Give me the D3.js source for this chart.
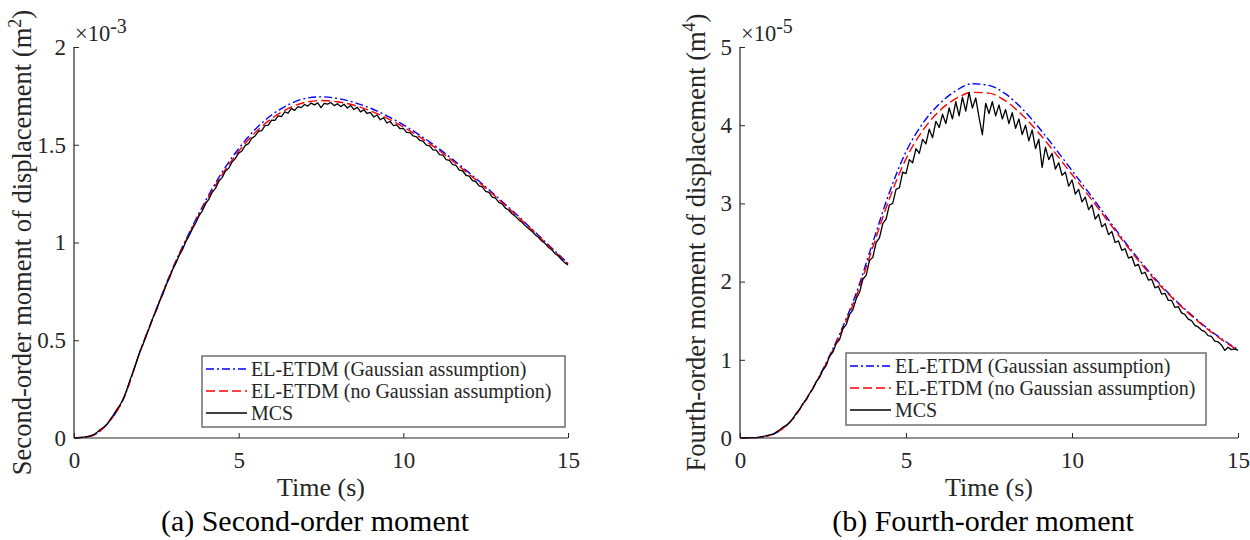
<!DOCTYPE html>
<html>
<head>
<meta charset="utf-8">
<script src="https://cdn.jsdelivr.net/npm/d3@7"></script>
<style>
	body { margin: 0; background: #fff; }
	svg text { font-family: 'Times New Roman', 'Liberation Serif', Times, serif; }
</style>
</head>
<body>
<svg id="chart" width="1250" height="540"></svg>
<script>
// time grids
const tCoarse = d3.range(0, 15.01, 0.5)
const tFine = d3.range(0, 15.001, 0.1)

// (a) second-order moment, x1e-3 m^2
const secondGauss = [0, 0.01, 0.07, 0.2, 0.44, 0.66, 0.87, 1.05, 1.215, 1.36, 1.48, 1.578, 1.652, 1.704, 1.736, 1.745, 1.737, 1.717, 1.687, 1.648, 1.602, 1.549, 1.49, 1.425, 1.356, 1.285, 1.21, 1.133, 1.053, 0.973, 0.893]
const secondNoGauss = [0, 0.01, 0.07, 0.2, 0.44, 0.658, 0.866, 1.044, 1.206, 1.348, 1.466, 1.562, 1.634, 1.685, 1.716, 1.726, 1.72, 1.702, 1.674, 1.636, 1.591, 1.539, 1.481, 1.417, 1.349, 1.279, 1.205, 1.128, 1.049, 0.969, 0.889]
const secondMCS = [
	0, 0.001, 0.002, 0.005, 0.007, 0.011, 0.017, 0.029, 0.043, 0.055,
	0.069, 0.095, 0.118, 0.147, 0.17, 0.201, 0.245, 0.297, 0.341, 0.39,
	0.442, 0.481, 0.526, 0.569, 0.616, 0.652, 0.701, 0.736, 0.784, 0.818,
	0.864, 0.897, 0.936, 0.965, 1.006, 1.036, 1.072, 1.101, 1.138, 1.163,
	1.2, 1.222, 1.258, 1.278, 1.314, 1.333, 1.366, 1.38, 1.412, 1.43,
	1.457, 1.468, 1.497, 1.506, 1.534, 1.545, 1.569, 1.572, 1.598, 1.6,
	1.626, 1.625, 1.648, 1.644, 1.668, 1.662, 1.686, 1.676, 1.695, 1.69,
	1.706, 1.698, 1.713, 1.704, 1.714, 1.69, 1.712, 1.708, 1.716, 1.7,
	1.71, 1.695, 1.707, 1.688, 1.701, 1.68, 1.692, 1.668, 1.679, 1.66,
	1.665, 1.642, 1.652, 1.628, 1.638, 1.612, 1.619, 1.598, 1.602, 1.582,
	1.584, 1.563, 1.562, 1.545, 1.54, 1.522, 1.518, 1.498, 1.494, 1.474,
	1.472, 1.449, 1.447, 1.424, 1.42, 1.398, 1.394, 1.37, 1.367, 1.344,
	1.34, 1.316, 1.312, 1.29, 1.284, 1.262, 1.256, 1.232, 1.227, 1.205,
	1.197, 1.176, 1.166, 1.147, 1.134, 1.117, 1.103, 1.087, 1.072, 1.058,
	1.04, 1.027, 1.008, 0.996, 0.976, 0.964, 0.944, 0.932, 0.913, 0.897,
	0.885
]

// (b) fourth-order moment, x1e-5 m^4
const fourthGauss = [0, 0.005, 0.05, 0.2, 0.5, 0.88, 1.33, 1.85, 2.5, 3.14, 3.66, 4.02, 4.27, 4.44, 4.53, 4.51, 4.4, 4.21, 3.97, 3.7, 3.42, 3.14, 2.85, 2.56, 2.29, 2.04, 1.81, 1.61, 1.43, 1.27, 1.13]
const fourthNoGauss = [0, 0.005, 0.05, 0.2, 0.5, 0.87, 1.31, 1.81, 2.44, 3.06, 3.57, 3.93, 4.18, 4.34, 4.42, 4.41, 4.31, 4.13, 3.9, 3.64, 3.37, 3.1, 2.82, 2.54, 2.27, 2.02, 1.8, 1.6, 1.42, 1.26, 1.12]
const fourthMCS = [
	0, 0.001, 0.001, 0.003, 0.004, 0.006, 0.011, 0.021, 0.029, 0.041,
	0.049, 0.08, 0.105, 0.14, 0.164, 0.203, 0.252, 0.321, 0.37, 0.442,
	0.49, 0.575, 0.632, 0.724, 0.776, 0.872, 0.93, 1.05, 1.1, 1.21,
	1.26, 1.4, 1.45, 1.58, 1.64, 1.78, 1.86, 2.03, 2.08, 2.27,
	2.31, 2.5, 2.56, 2.74, 2.8, 2.98, 3.0, 3.18, 3.2, 3.4,
	3.38, 3.56, 3.52, 3.7, 3.64, 3.82, 3.76, 3.95, 3.84, 4.05,
	3.97, 4.14, 4.02, 4.22, 4.08, 4.3, 4.12, 4.36, 4.18, 4.42,
	4.22, 4.35, 4.1, 3.88, 4.28, 4.15, 4.3, 4.12, 4.26, 4.08,
	4.2, 4.02, 4.16, 3.96, 4.08, 3.88, 4.0, 3.8, 3.94, 3.7,
	3.82, 3.46, 3.72, 3.56, 3.64, 3.44, 3.52, 3.36, 3.4, 3.22,
	3.3, 3.12, 3.18, 3.02, 3.08, 2.92, 2.98, 2.8, 2.86, 2.7,
	2.74, 2.6, 2.64, 2.5, 2.52, 2.4, 2.42, 2.3, 2.32, 2.2,
	2.22, 2.1, 2.12, 2.02, 2.03, 1.92, 1.94, 1.84, 1.85, 1.76,
	1.76, 1.67, 1.68, 1.6, 1.58, 1.52, 1.5, 1.44, 1.42, 1.38,
	1.36, 1.31, 1.3, 1.24, 1.23, 1.19, 1.12, 1.16, 1.13, 1.14,
	1.12
]

const xTicks = [0, 5, 10, 15]
const secondTicks = [0, 0.5, 1, 1.5, 2]
const fourthTicks = [0, 1, 2, 3, 4, 5]
const legendLabels = ['EL-ETDM (Gaussian assumption)', 'EL-ETDM (no Gaussian assumption)', 'MCS']

const styles = [
	{ color: '#0000ff', dash: '8,3,2,3', width: 1.4 },
	{ color: '#ff0000', dash: '9,4', width: 1.4 },
	{ color: '#000000', dash: null, width: 1.3 }
]

const panels = [
	{
		left: 74, right: 568, top: 47, bottom: 438,
		yMax: 2, yTicks: secondTicks, exponent: '-3',
		ylabel: 'Second-order moment of displacement (m', power: '2', ylabelX: 31,
		title: '(a) Second-order moment',
		series: [secondGauss, secondNoGauss], mcs: secondMCS,
		legend: { x: 202, y: 356, w: 363, h: 71 }
	},
	{
		left: 740, right: 1238, top: 47, bottom: 438,
		yMax: 5, yTicks: fourthTicks, exponent: '-5',
		ylabel: 'Fourth-order moment of displacement (m', power: '4', ylabelX: 705,
		title: '(b) Fourth-order moment',
		series: [fourthGauss, fourthNoGauss], mcs: fourthMCS,
		legend: { x: 846, y: 353, w: 360, h: 72 }
	}
]

const svg = d3.select('#chart')
const ink = '#262626'

panels.forEach(p => {
	const x = d3.scaleLinear().domain([0, 15]).range([p.left, p.right])
	const y = d3.scaleLinear().domain([0, p.yMax]).range([p.bottom, p.top])
	const g = svg.append('g')

	const line = d3.line()
		.x(d => x(d[0]))
		.y(d => y(d[1]))

	// smooth model curves
	p.series.forEach((vals, i) => {
		g.append('path')
			.datum(tCoarse.map((t, k) => [t, vals[k]]))
			.attr('fill', 'none')
			.attr('stroke', styles[i].color)
			.attr('stroke-width', styles[i].width)
			.attr('stroke-dasharray', styles[i].dash)
			.attr('d', line.curve(d3.curveMonotoneX))
	})

	// MCS
	g.append('path')
		.datum(tFine.map((t, k) => [t, p.mcs[k]]))
		.attr('fill', 'none')
		.attr('stroke', styles[2].color)
		.attr('stroke-width', styles[2].width)
		.attr('stroke-linejoin', 'round')
		.attr('d', line.curve(d3.curveLinear))

	// axes, ticks pointing inward like matlab
	const xAxis = g.append('g')
		.attr('transform', `translate(0,${p.bottom})`)
		.call(d3.axisBottom(x).tickValues(xTicks).tickFormat(d => String(d)).tickSize(-5).tickPadding(10))
	const yAxis = g.append('g')
		.attr('transform', `translate(${p.left},0)`)
		.call(d3.axisLeft(y).tickValues(p.yTicks).tickFormat(d => String(d)).tickSize(-5).tickPadding(8))

	;[xAxis, yAxis].forEach(a => {
		a.attr('font-family', null).attr('font-size', null)
		a.select('.domain').attr('stroke', ink).attr('stroke-width', 1.2)
			.attr('d', a === xAxis ? `M${p.left},0H${p.right}` : `M0,${p.bottom}V${p.top}`)
		a.selectAll('.tick line').attr('stroke', ink).attr('stroke-width', 1)
		a.selectAll('.tick text')
			.attr('fill', ink)
			.style('font-size', '23px')
	})
	xAxis.selectAll('.tick text').attr('dy', '0.85em')

	// exponent
	const ex = g.append('text')
		.attr('x', p.left + 1)
		.attr('y', p.top - 6)
		.attr('fill', ink)
		.style('font-size', '22.5px')
	ex.append('tspan').text('×10')
	ex.append('tspan').attr('dy', -8).style('font-size', '20px').text(p.exponent)

	// labels
	g.append('text')
		.attr('x', (p.left + p.right) / 2)
		.attr('y', 496)
		.attr('text-anchor', 'middle')
		.attr('fill', ink)
		.style('font-size', '26px')
		.text('Time (s)')

	const yl = g.append('text')
		.attr('transform', `translate(${p.ylabelX},${(p.top + p.bottom) / 2}) rotate(-90)`)
		.attr('text-anchor', 'middle')
		.attr('fill', ink)
		.style('font-size', '26.5px')
	yl.append('tspan').text(p.ylabel)
	yl.append('tspan').attr('dy', -10).style('font-size', '18px').text(p.power)
	yl.append('tspan').attr('dy', 10).text(')')

	g.append('text')
		.attr('x', (p.left + p.right) / 2 - 6)
		.attr('y', 531)
		.attr('text-anchor', 'middle')
		.attr('fill', '#000')
		.style('font-size', '30px')
		.text(p.title)

	// legend
	const L = p.legend
	const lg = g.append('g').attr('transform', `translate(${L.x},${L.y})`)
	lg.append('rect')
		.attr('width', L.w)
		.attr('height', L.h)
		.attr('fill', '#fff')
		.attr('stroke', '#6e6e6e')
		.attr('stroke-width', 1.5)
	legendLabels.forEach((lab, i) => {
		const cy = 13 + i * 22
		lg.append('line')
			.attr('x1', 4).attr('x2', 45)
			.attr('y1', cy).attr('y2', cy)
			.attr('stroke', styles[i].color)
			.attr('stroke-width', styles[i].width)
			.attr('stroke-dasharray', styles[i].dash)
		lg.append('text')
			.attr('x', 49)
			.attr('y', cy)
			.attr('dy', '0.33em')
			.attr('fill', ink)
			.style('font-size', '20px')
			.text(lab)
	})
})
</script>
</body>
</html>
